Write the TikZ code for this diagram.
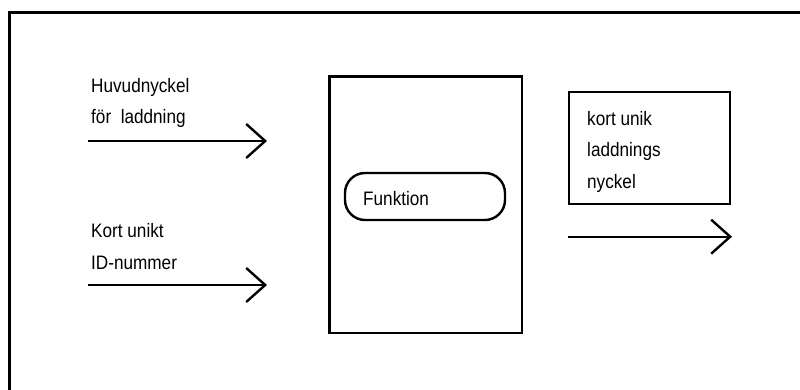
\documentclass[tikz,border=0pt]{standalone}
\usepackage{fontspec}
\newfontfamily\narrowsans[FakeStretch=0.88]{Liberation Sans}
\usetikzlibrary{arrows.meta}

\begin{document}
\begin{tikzpicture}[x=1pt, y=-1pt, line width=2.4pt,
  txt/.style = {anchor=base west, inner sep=0, align=left, font=\narrowsans\fontsize{19.5}{31.5}\selectfont},
  box/.style = {draw, inner sep=0, outer sep=0, anchor=north west},
  flow/.style = {-{Straight Barb[length=19pt, width=34pt]}}]
\useasboundingbox (0,0) rectangle (800,390);
% frame, only top and left edges show
\draw[line width=2.6pt] (9.5,390) |- (800,12.5);

% inputs (base = last line)
\node[txt] (keyin) at (90,124) {Huvudnyckel\\för~ laddning};
\node[txt] (idin) at (90,269) {Kort unikt\\ID-nummer};
\coordinate (keyA) at (88,141);
\coordinate (keyB) at (267,141);
\coordinate (idA) at (88,285);
\coordinate (idB) at (267,285);
\draw[flow] (keyA) -- (keyB);
\draw[flow] (idA) -- (idB);

% function block
\node[box, minimum width=192.5, minimum height=256.5] (block) at (329.5,76.5) {};
\node[box, rounded corners=20, minimum width=160, minimum height=47] (fn) at (345,173) {};
\node[txt] (fnlabel) at (362,205) {Funktion};

% output
\node[box, minimum width=161, minimum height=112] (outbox) at (569,92.3) {};
\node[txt] (keyout) at (586,188.3) {kort unik\\laddnings\\nyckel};
\coordinate (outA) at (568,236.7);
\coordinate (outB) at (732,236.7);
\draw[flow] (outA) -- (outB);
\end{tikzpicture}
\end{document}
